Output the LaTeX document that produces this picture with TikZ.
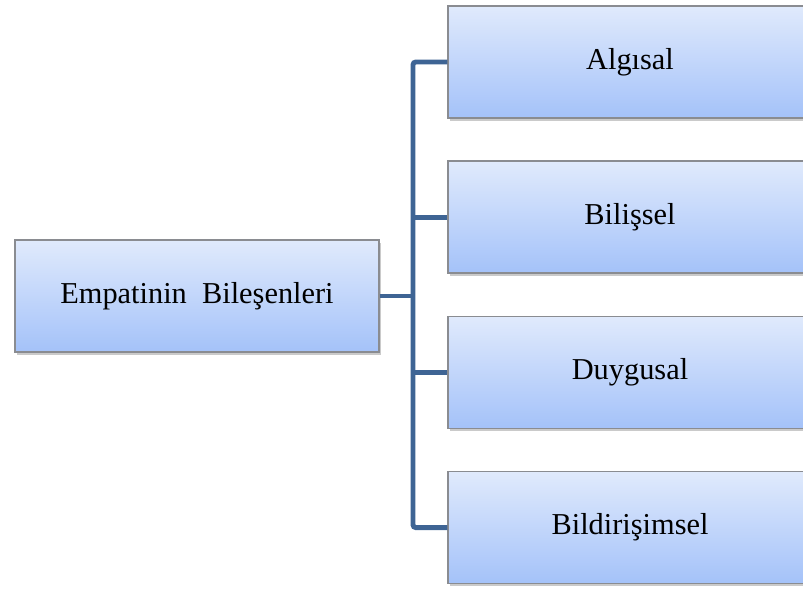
\documentclass[tikz,border=0pt]{standalone}
\usepackage{fontspec}
\setmainfont{Liberation Serif}
\usepackage{tikz}
\usetikzlibrary{shadows}
\definecolor{boxtop}{RGB}{224,234,252}
\definecolor{boxbottom}{RGB}{164,194,249}
\definecolor{boxline}{RGB}{138,140,145}
\definecolor{linkblue}{RGB}{62,100,148}
\tikzset{
	part/.style = {
		draw = boxline,
		line width = 1pt,
		top color = boxtop,
		bottom color = boxbottom,
		minimum width = 9.1cm,
		minimum height = 2.8cm,
		font = \fontsize{21.6}{26}\selectfont,
		drop shadow = {shadow xshift=0.05cm, shadow yshift=-0.07cm, opacity=0.35, fill=black!60}
	},
	link/.style = {
		linkblue,
		line width = 3.5pt,
		rounded corners = 2pt
	}
}

\begin{document}
\begin{tikzpicture}
		\useasboundingbox (0,0) rectangle (20.075,14.75);
		\clip (0,0) rectangle (20.075,14.75);
		\node[part] (main) at (4.925, 7.35) {Empatinin~ Bileşenleri};
		\node[part] (algisal) at (15.75, 13.2) {Algısal};
		\node[part] (bilissel) at (15.75, 9.32) {Bilişsel};
		\node[part] (duygusal) at (15.75, 5.44) {Duygusal};
		\node[part] (bildirim) at (15.75, 1.56) {Bildirişimsel};
		
		\coordinate (trunk) at (10.325, 7.35);
		\draw[link] (algisal.west) -| (trunk) |- (bildirim.west);
		\draw[link] (main.east) -- (trunk);
		\draw[link] (trunk |- bilissel.west) -- (bilissel.west);
		\draw[link] (trunk |- duygusal.west) -- (duygusal.west);
	\end{tikzpicture}
\end{document}
